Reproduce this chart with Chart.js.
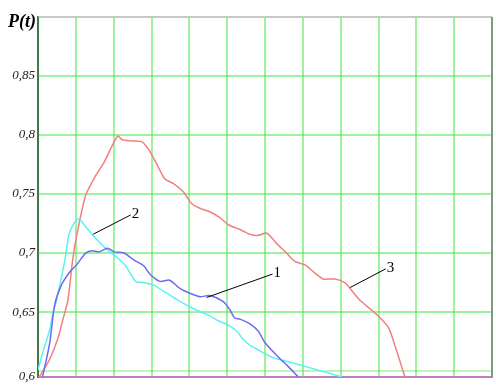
<!DOCTYPE html>
<html>
<head>
<meta charset="utf-8">
<script src="https://cdn.jsdelivr.net/npm/chart.js@4/dist/chart.umd.min.js"></script>
<style>
    html, body { margin: 0; padding: 0; background: #fff; }
    #wrap { position: relative; width: 496px; height: 391px; }
</style>
</head>
<body>
<div id="wrap"><canvas id="chart"></canvas></div>
<script>
// ===== DATA =====
// curve 1 (blue)
const t1 = [0.12, 0.31, 0.44, 0.62, 0.84, 1.02, 1.26, 1.44, 1.61, 1.84, 2.01, 2.27, 2.54, 2.80,
    2.96, 3.22, 3.48, 3.75, 4.01, 4.28, 4.54, 4.89, 5.07, 5.20, 5.34, 5.60, 5.82, 6.00, 6.35, 6.61, 6.88];
const p1 = [0.595, 0.624, 0.656, 0.673, 0.684, 0.690, 0.700, 0.702, 0.701, 0.704, 0.701, 0.700, 0.694, 0.689,
    0.682, 0.676, 0.677, 0.670, 0.666, 0.663, 0.664, 0.659, 0.652, 0.645, 0.644, 0.640, 0.634, 0.624, 0.612, 0.604, 0.595];

// curve 2 (cyan)
const t2 = [0.00, 0.12, 0.31, 0.40, 0.49, 0.71, 0.82, 0.95, 1.08, 1.22, 1.48, 1.79, 2.10, 2.32, 2.58, 2.80, 3.04,
    3.40, 3.75, 4.10, 4.46, 4.81, 5.03, 5.25, 5.42, 5.60, 5.82, 6.17, 6.61, 7.06, 7.50, 8.03];
const p2 = [0.601, 0.615, 0.635, 0.650, 0.660, 0.694, 0.716, 0.725, 0.729, 0.724, 0.714, 0.704, 0.696, 0.689, 0.676, 0.675, 0.673,
    0.666, 0.659, 0.653, 0.648, 0.642, 0.639, 0.634, 0.627, 0.622, 0.618, 0.612, 0.608, 0.604, 0.600, 0.595];

// curve 3 (red)
const t3 = [0.03, 0.13, 0.31, 0.53, 0.66, 0.79, 0.90, 1.00, 1.26, 1.53, 1.75, 2.10, 2.23, 2.50, 2.76, 2.96, 3.13,
    3.35, 3.57, 3.84, 4.06, 4.28, 4.54, 4.81, 5.03, 5.34, 5.60, 5.82, 6.04, 6.31, 6.57, 6.79, 7.06,
    7.32, 7.54, 7.85, 8.11, 8.25, 8.51, 8.95, 9.26, 9.44, 9.61, 9.70];
const p3 = [0.595, 0.600, 0.610, 0.628, 0.644, 0.660, 0.690, 0.711, 0.749, 0.766, 0.777, 0.799, 0.796, 0.795, 0.794, 0.786, 0.776,
    0.763, 0.759, 0.752, 0.742, 0.738, 0.735, 0.730, 0.724, 0.720, 0.716, 0.715, 0.717, 0.708, 0.700, 0.693, 0.690,
    0.683, 0.678, 0.678, 0.675, 0.670, 0.660, 0.648, 0.637, 0.621, 0.604, 0.595];

// axis ticks
const yTicks = [0.595, 0.6, 0.65, 0.7, 0.75, 0.8, 0.85, 0.9];
const yTickLabels = ['0,6', '', '0,65', '0,7', '0,75', '0,8', '0,85', ''];
const yTitle = 'P(t)';

// curve labels with leader lines
const annotText = ['1', '2', '3'];
const annotFromT = [4.46, 1.46, 8.25];
const annotFromP = [0.6624, 0.716, 0.6708];
const annotToT = [6.20, 2.45, 9.19];
const annotToP = [0.6822, 0.7323, 0.6866];

// ===== HELPERS =====
function toPoints(ts, ps) {
    return ts.map((t, i) => ({ x: t, y: ps[i] }));
}

const GRID_GREEN = 'rgba(60, 232, 60, 0.5)';

// draws right frame, y title and curve labels
const decorPlugin = {
    id: 'decor',
    afterDatasetsDraw(chart) {
        const { ctx, chartArea: a, scales: { x, y } } = chart;
        ctx.save();

        // right frame
        ctx.strokeStyle = '#7f9a7f';
        ctx.lineWidth = 2;
        ctx.beginPath();
        ctx.moveTo(a.right, a.top);
        ctx.lineTo(a.right, a.bottom);
        ctx.stroke();

        // leader lines + numbers
        ctx.strokeStyle = '#000';
        ctx.lineWidth = 1;
        ctx.fillStyle = '#000';
        ctx.font = '15px "Liberation Serif", serif';
        ctx.textBaseline = 'middle';
        annotText.forEach((txt, i) => {
            const x0 = x.getPixelForValue(annotFromT[i]);
            const y0 = y.getPixelForValue(annotFromP[i]);
            const x1 = x.getPixelForValue(annotToT[i]);
            const y1 = y.getPixelForValue(annotToP[i]);
            ctx.beginPath();
            ctx.moveTo(x0, y0);
            ctx.lineTo(x1, y1);
            ctx.stroke();
            ctx.fillText(txt, x1 + 1, y1 - 1);
        });

        // y title
        ctx.font = 'italic bold 18px "Liberation Serif", serif';
        ctx.textAlign = 'right';
        ctx.textBaseline = 'alphabetic';
        ctx.fillText(yTitle, a.left - 2, a.top + 10);
        ctx.restore();
    }
};

// ===== CHART =====
new Chart(document.getElementById('chart'), {
    type: 'line',
    data: {
        datasets: [
            { label: '1', data: toPoints(t1, p1), borderColor: '#6c6cf0' },
            { label: '2', data: toPoints(t2, p2), borderColor: '#5cf2f2' },
            { label: '3', data: toPoints(t3, p3), borderColor: '#f47f7f' }
        ]
    },
    options: {
        responsive: true,
        maintainAspectRatio: false,
        animation: false,
        layout: { padding: { top: 17, right: 4, left: 0, bottom: 0 } },
        elements: {
            line: { borderWidth: 1.5, tension: 0.25, fill: false },
            point: { radius: 0 }
        },
        plugins: {
            legend: { display: false },
            tooltip: { enabled: false }
        },
        scales: {
            x: {
                type: 'linear',
                min: 0,
                max: 12,
                ticks: { display: false, stepSize: 1 },
                grid: {
                    drawTicks: false,
                    lineWidth: 2,
                    color: c => {
                        if (c.tick.value === 0) return '#3f7a3f';
                        return GRID_GREEN;
                    }
                },
                border: { display: true, color: '#bf80c0', width: 2 },
                afterFit: scale => { scale.height = 14; }
            },
            y: {
                type: 'linear',
                min: 0.595,
                max: 0.9,
                afterBuildTicks: scale => {
                    scale.ticks = yTicks.map(v => ({ value: v }));
                },
                ticks: {
                    padding: 3,
                    color: '#222',
                    font: { family: '"Liberation Serif", serif', style: 'italic', size: 13 },
                    callback: value => {
                        const i = yTicks.findIndex(v => Math.abs(v - value) < 1e-6);
                        return i >= 0 ? yTickLabels[i] : '';
                    }
                },
                grid: {
                    drawTicks: false,
                    lineWidth: 2,
                    color: c => {
                        const v = c.tick.value;
                        if (Math.abs(v - 0.595) < 1e-6) return 'rgba(0,0,0,0)';
                        if (Math.abs(v - 0.9) < 1e-6) return '#c8c8c8';
                        if (Math.abs(v - 0.6) < 1e-6) return 'rgba(60, 225, 60, 0.35)';
                        return GRID_GREEN;
                    }
                },
                border: { display: true, color: '#3f7a3f', width: 1.5 },
                afterFit: scale => { scale.width = 38; }
            }
        }
    },
    plugins: [decorPlugin]
});
</script>
</body>
</html>
